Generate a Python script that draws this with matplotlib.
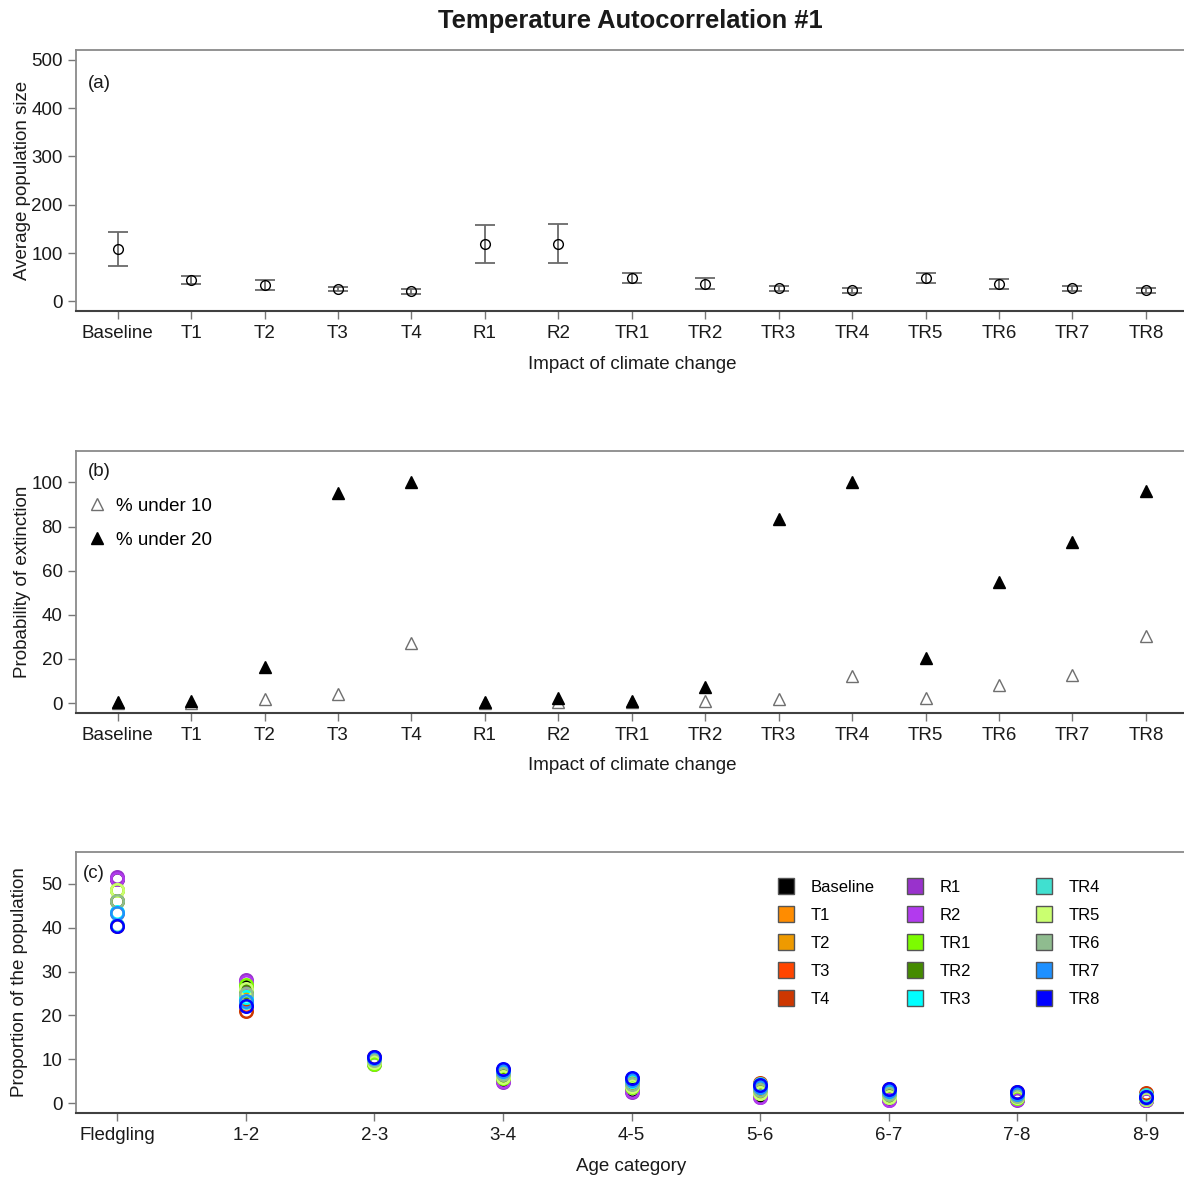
import matplotlib.pyplot as plt
from matplotlib.lines import Line2D

plt.rcParams["font.family"] = ["Liberation Sans", "DejaVu Sans"]

# ==========================================
# DATA
# ==========================================

scenarios = ["Baseline", "T1", "T2", "T3", "T4", "R1", "R2",
             "TR1", "TR2", "TR3", "TR4", "TR5", "TR6", "TR7", "TR8"]

# (a) average population size with confidence limits
pop_mean = [108, 44, 34, 25, 20.7, 119, 119, 49, 36.7, 27.8, 22.8, 49, 36.7, 27.8, 22.8]
pop_lower = [72.6, 35, 24, 20.7, 15.3, 79, 79, 38, 25.7, 21.6, 17.4, 38, 25, 22, 17.4]
pop_upper = [143, 53, 43.6, 29, 25.7, 159, 159.5, 59, 47.7, 32.6, 27.8, 59, 47, 32.6, 27.8]

# (b) probability of extinction (%)
ext_under10 = [0, 0, 1.7, 4.3, 27.4, 0, 0.5, 0.5, 0.9, 1.7, 12.1, 2.3, 8.3, 12.6, 30.3]
ext_under20 = [0.5, 1, 16.3, 95, 100, 0.5, 2.3, 1, 7.3, 83.3, 100, 20.4, 54.8, 72.8, 96.2]

# (c) proportion of the population per age class, one list per age class
age_classes = ["Fledgling", "1-2", "2-3", "3-4", "4-5", "5-6", "6-7", "7-8", "8-9"]
prop_fledgling = [51, 48.5, 46, 43.3, 40.4, 51.5, 51, 48.7, 46.2, 43.5, 40.6, 48.5, 46, 43.3, 40.3]
prop_1_2 = [26.5, 25, 23.8, 22.3, 21, 28, 27.6, 27, 25.6, 24.2, 23, 26, 24.8, 23.4, 22.1]
prop_2_3 = [9.3, 9.8, 10, 10.3, 10.5, 9, 9.1, 9, 9.5, 9.9, 10.2, 9.4, 9.8, 10.2, 10.5]
prop_3_4 = [5.3, 6.2, 6.6, 7.2, 7.6, 4.8, 5.0, 5.8, 6.4, 7.0, 7.4, 6.0, 6.6, 7.3, 7.8]
prop_4_5 = [3.0, 4.0, 4.6, 5.2, 5.6, 2.5, 2.7, 3.6, 4.3, 5.0, 5.5, 3.8, 4.4, 5.2, 5.8]
prop_5_6 = [1.8, 2.6, 3.3, 4.1, 4.5, 1.4, 1.5, 2.3, 3.0, 3.7, 4.3, 2.4, 3.0, 3.6, 4.1]
prop_6_7 = [1.0, 1.6, 2.1, 2.8, 3.3, 0.6, 0.7, 1.4, 1.9, 2.5, 3.0, 1.5, 2.0, 2.7, 3.3]
prop_7_8 = [0.9, 1.3, 1.7, 2.2, 2.6, 0.8, 0.9, 1.2, 1.6, 2.0, 2.4, 1.3, 1.7, 2.1, 2.5]
prop_8_9 = [0.8, 1.0, 1.4, 1.9, 2.2, 0.6, 0.7, 0.9, 1.2, 1.5, 1.8, 1.0, 1.2, 1.4, 1.5]

scenario_colors = ["#000000", "#FF8C00", "#EE9A00", "#FF4500", "#CD3700",
                   "#9932CC", "#B23AEE", "#7CFC00", "#458B00", "#00FFFF",
                   "#40E0D0", "#CAFF70", "#8FBC8F", "#1E90FF", "#0000FF"]

# ==========================================
# STYLE
# ==========================================

TEXT = "#1a1a1a"
FS = 13.5

def style_axes(ax):
    for side in ["top", "right", "left"]:
        ax.spines[side].set_color("#8a8a8a")
        ax.spines[side].set_linewidth(1.3)
    ax.spines["bottom"].set_color("#404040")
    ax.spines["bottom"].set_linewidth(1.5)
    ax.tick_params(axis="both", length=6, width=1, color="#777777",
                   labelsize=FS, labelcolor=TEXT, pad=4)

fig = plt.figure(figsize=(11.84, 11.80), dpi=100)
fig.text(0.532, 0.982, "Temperature Autocorrelation #1", ha="center", va="center",
         fontsize=18.4, fontweight="bold", color=TEXT)

x_scen = list(range(1, len(scenarios) + 1))

# ==========================================
# (a) POPULATION SIZE
# ==========================================

ax_a = fig.add_axes([0.0646, 0.7364, 0.938, 0.2212])
err_lo = [m - lo for m, lo in zip(pop_mean, pop_lower)]
err_hi = [hi - m for m, hi in zip(pop_mean, pop_upper)]
ax_a.errorbar(x_scen, pop_mean, yerr=[err_lo, err_hi], fmt="none",
              ecolor="#6a6a6a", elinewidth=1.3, capsize=7.5, capthick=1.3)
ax_a.plot(x_scen, pop_mean, "o", mfc="none", mec="black", ms=7, mew=1)
ax_a.set_xlim(0.44, 15.56)
ax_a.set_ylim(-20, 520)
ax_a.set_yticks([0, 100, 200, 300, 400, 500])
ax_a.set_xticks(x_scen)
ax_a.set_xticklabels(scenarios)
ax_a.set_xlabel("Impact of climate change", fontsize=FS, color=TEXT, labelpad=10)
ax_a.set_ylabel("Average population size", fontsize=FS, color=TEXT)
ax_a.yaxis.set_label_coords(-0.041, 0.5)
ax_a.text(0.0104, 0.873, "(a)", transform=ax_a.transAxes, fontsize=FS,
          color=TEXT, va="center")
style_axes(ax_a)

# ==========================================
# (b) EXTINCTION PROBABILITY
# ==========================================

ax_b = fig.add_axes([0.0646, 0.3960, 0.938, 0.2221])
ax_b.plot(x_scen, ext_under10, "^", mfc="white", mec="#6f6f6f", ms=8.5, mew=1,
          label="% under 10")
ax_b.plot(x_scen, ext_under20, "^", mfc="black", mec="black", ms=8.5, mew=1,
          label="% under 20")
ax_b.set_xlim(0.44, 15.56)
ax_b.set_ylim(-4.4, 114.4)
ax_b.set_yticks([0, 20, 40, 60, 80, 100])
ax_b.set_xticks(x_scen)
ax_b.set_xticklabels(scenarios)
ax_b.set_xlabel("Impact of climate change", fontsize=FS, color=TEXT, labelpad=10)
ax_b.set_ylabel("Probability of extinction", fontsize=FS, color=TEXT)
ax_b.yaxis.set_label_coords(-0.041, 0.5)
ax_b.text(0.0104, 0.919, "(b)", transform=ax_b.transAxes, fontsize=FS,
          color=TEXT, va="center")
ax_b.legend(loc="upper left", bbox_to_anchor=(0.008, 0.82), frameon=False,
            fontsize=FS, handlelength=1.2, handletextpad=0.45,
            labelspacing=0.9, borderpad=0, borderaxespad=0)
style_axes(ax_b)

# ==========================================
# (c) AGE STRUCTURE
# ==========================================

ax_c = fig.add_axes([0.0644, 0.0570, 0.938, 0.2207])
age_table = [prop_fledgling, prop_1_2, prop_2_3, prop_3_4, prop_4_5,
             prop_5_6, prop_6_7, prop_7_8, prop_8_9]
x_age = list(range(1, len(age_classes) + 1))
for i, color in enumerate(scenario_colors):
    ax_c.plot(x_age, [row[i] for row in age_table], "o", mfc="none",
              mec=color, ms=9, mew=1.8)
ax_c.set_xlim(0.68, 9.32)
ax_c.set_ylim(-2.2, 57.2)
ax_c.set_yticks([0, 10, 20, 30, 40, 50])
ax_c.set_xticks(x_age)
ax_c.set_xticklabels(age_classes)
ax_c.set_xlabel("Age category", fontsize=FS, color=TEXT, labelpad=10)
ax_c.set_ylabel("Proportion of the population", fontsize=FS, color=TEXT)
ax_c.yaxis.set_label_coords(-0.043, 0.5)
ax_c.text(0.006, 0.92, "(c)", transform=ax_c.transAxes, fontsize=FS,
          color=TEXT, va="center")

# legend in three columns of five; the last one stays as the axes legend
col_x = [0.6315, 0.7476, 0.8637]
for c in range(3):
    handles = [Line2D([], [], marker="s", ls="none", mfc=scenario_colors[k],
                      mec="#555555", mew=1, ms=11)
               for k in range(c * 5, c * 5 + 5)]
    leg = ax_c.legend(handles, scenarios[c * 5:c * 5 + 5], loc="upper left",
                      bbox_to_anchor=(col_x[c], 0.895), frameon=False,
                      fontsize=12, handlelength=1.0, handletextpad=1.0,
                      labelspacing=0.78, borderpad=0, borderaxespad=0)
    if c < 2:
        ax_c.add_artist(leg)
style_axes(ax_c)

# ==========================================
# SAVE
# ==========================================

plt.savefig("out.png", dpi=100, facecolor="white")
plt.close()
